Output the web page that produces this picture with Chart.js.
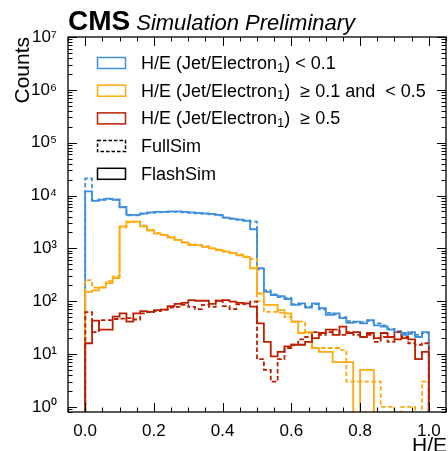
<!DOCTYPE html>
<html>
<head>
<meta charset="utf-8">
<script src="https://cdn.jsdelivr.net/npm/chart.js@4.4.1/dist/chart.umd.min.js"></script>
<style>
  html, body { margin: 0; padding: 0; background: #fff; }
  #wrap { width: 448px; height: 451px; position: relative; }
</style>
</head>
<body>
<div id="wrap"><canvas id="c" width="448" height="451"></canvas></div>
<script>
// Histogram bin edges for H/E (50 bins of 0.02)
const binEdges = [0.00,0.02,0.04,0.06,0.08,0.10,0.12,0.14,0.16,0.18,
                  0.20,0.22,0.24,0.26,0.28,0.30,0.32,0.34,0.36,0.38,
                  0.40,0.42,0.44,0.46,0.48,0.50,0.52,0.54,0.56,0.58,
                  0.60,0.62,0.64,0.66,0.68,0.70,0.72,0.74,0.76,0.78,
                  0.80,0.82,0.84,0.86,0.88,0.90,0.92,0.94,0.96,0.98,1.00];

// H/E (Jet/Electron1) < 0.1
const blueFlash = [12000,7900,8300,8700,8300,6000,4300,4300,4600,4800,
                   4900,4900,5000,5000,4900,4800,4700,4600,4500,4300,
                   3800,3600,3500,3300,2300,420,150,130,125,110,
                   85,91,76,91,74,55,59,48,39,41,
                   38,44,35,33,29,26,23,26,21,26];
const blueFull  = [21000,8100,8500,8600,8400,6100,4200,4200,4500,4700,
                   4800,4900,4900,4900,4800,4700,4600,4500,4400,4200,
                   3800,3700,3500,3400,3200,400,160,135,120,115,
                   88,86,80,88,70,60,56,50,42,40,
                   40,42,38,35,30,27,25,24,23,25];

// 0.1 <= H/E (Jet/Electron1) < 0.5
const orangeFlash = [150,160,180,220,275,2600,3200,3200,2600,2200,
                     1900,1800,1600,1450,1300,1150,1150,1070,1000,930,
                     870,810,740,680,420,140,85,85,68,59,
                     41,25,26,13,11,11,7,7,7,0,
                     5,5,0,0,0,0,0,0,0,0];
const orangeFull  = [250,180,185,240,295,2500,3100,3200,2700,2200,
                     1950,1800,1650,1450,1300,1200,1150,1100,1000,950,
                     880,820,760,700,630,100,63,63,60,50,
                     41,41,25,13,13,13,13,12,3,3,
                     3,3,3,1,1,0,1,1,0,3];

// H/E (Jet/Electron1) >= 0.5
const redFlash = [16,43,29,29,51,59,41,59,65,63,
                  68,69,81,89,93,105,102,102,89,102,
                  105,98,93,91,79,38,17,9,11,14,
                  15,15,17,20,25,29,23,33,25,26,
                  21,25,20,25,21,19,20,19,8,11];
const redFull  = [62,26,44,44,46,47,48,45,59,62,
                  65,69,76,78,85,78,71,85,78,102,
                  81,71,87,89,98,8,5,3,8,13,
                  15,19,21,26,23,26,29,23,26,23,
                  21,23,17,21,17,26,21,16,15,16];

// Axis ticks
const xTickValues = [0.0, 0.2, 0.4, 0.6, 0.8, 1.0];
const yTickValues = [1, 10, 100, 1000, 10000, 100000, 1000000, 10000000];

const colBlue = '#3f90da', colOrange = '#ffa90e', colRed = '#bd1f01';
const FONT = "'Liberation Sans', Arial, Helvetica, sans-serif";
const LOG_FLOOR = 1e-3; // empty bins fall below the axis and are clipped

// Step outline: rise at the left edge of each bin, run across it, drop at the end
function stepData(counts) {
  const pts = [{ x: binEdges[0], y: LOG_FLOOR }];
  counts.forEach((c, i) => pts.push({ x: binEdges[i + 1], y: c > 0 ? c : LOG_FLOOR }));
  pts.push({ x: binEdges[binEdges.length - 1], y: LOG_FLOOR });
  return pts;
}

function histSet(label, counts, color, dashed) {
  return {
    label, data: stepData(counts),
    borderColor: color, borderWidth: 1.8,
    borderDash: dashed ? [4.5, 2.5] : [],
    stepped: 'after', pointRadius: 0, fill: false, tension: 0
  };
}

const supDigits = { '0': '\u2070', '1': '\u00b9', '2': '\u00b2', '3': '\u00b3', '4': '\u2074',
                    '5': '\u2075', '6': '\u2076', '7': '\u2077', '8': '\u2078', '9': '\u2079' };

// Draws a line of text made of normal / subscript pieces
function drawRich(ctx, x, y, parts, size) {
  let cx = x;
  parts.forEach(p => {
    if (p.sub) {
      ctx.font = `${Math.round(size * 0.7)}px ${FONT}`;
      ctx.fillText(p.t, cx, y + size * 0.22);
    } else {
      ctx.font = `${size}px ${FONT}`;
      ctx.fillText(p.t, cx, y);
    }
    cx += ctx.measureText(p.t).width;
  });
}

const legendItems = [
  { color: colBlue, dash: [], parts: [{ t: 'H/E (Jet/Electron' }, { t: '1', sub: true }, { t: ') < 0.1' }] },
  { color: colOrange, dash: [], parts: [{ t: 'H/E (Jet/Electron' }, { t: '1', sub: true }, { t: ')  \u2265 0.1 and  < 0.5' }] },
  { color: colRed, dash: [], parts: [{ t: 'H/E (Jet/Electron' }, { t: '1', sub: true }, { t: ')  \u2265 0.5' }] },
  { color: '#000', dash: [3.5, 2], parts: [{ t: 'FullSim' }] },
  { color: '#000', dash: [], parts: [{ t: 'FlashSim' }] }
];

const decorations = {
  id: 'decorations',
  afterDatasetsDraw(chart) {
    const ctx = chart.ctx, a = chart.chartArea;
    const xs = chart.scales.x, ys = chart.scales.y;
    ctx.save();
    ctx.strokeStyle = '#000';
    ctx.lineWidth = 1;
    const MAJ = 9, MIN = 4.5;
    const line = (x1, y1, x2, y2) => { ctx.beginPath(); ctx.moveTo(x1, y1); ctx.lineTo(x2, y2); ctx.stroke(); };
    // x ticks (inward, bottom and top)
    xTickValues.forEach(v => {
      const px = Math.round(xs.getPixelForValue(v)) + 0.5;
      line(px, a.bottom, px, a.bottom - MAJ); line(px, a.top, px, a.top + MAJ);
    });
    for (let k = -1; k <= 21; k++) {
      const v = k * 0.05;
      if (k % 4 === 0 || v < xs.min || v > xs.max) continue;
      const px = Math.round(xs.getPixelForValue(v)) + 0.5;
      line(px, a.bottom, px, a.bottom - MIN); line(px, a.top, px, a.top + MIN);
    }
    // y ticks (inward, left and right)
    yTickValues.forEach(v => {
      const py = Math.round(ys.getPixelForValue(v)) + 0.5;
      line(a.left, py, a.left + MAJ, py); line(a.right, py, a.right - MAJ, py);
    });
    for (let d = -1; d < 7; d++) {
      for (let m = 2; m <= 9; m++) {
        const v = m * Math.pow(10, d);
        if (v < ys.min || v > ys.max) continue;
        const py = Math.round(ys.getPixelForValue(v)) + 0.5;
        line(a.left, py, a.left + MIN, py); line(a.right, py, a.right - MIN, py);
      }
    }
    // frame
    ctx.lineWidth = 1.3;
    ctx.strokeRect(a.left, a.top, a.right - a.left, a.bottom - a.top);

    // header
    ctx.fillStyle = '#000';
    ctx.textBaseline = 'alphabetic';
    ctx.textAlign = 'left';
    ctx.font = `bold 28px ${FONT}`;
    ctx.fillText('CMS', a.left, 30);
    const cmsW = ctx.measureText('CMS').width;
    ctx.font = `italic 22px ${FONT}`;
    ctx.fillText('Simulation Preliminary', a.left + cmsW + 6, 30);

    // axis titles
    ctx.font = `21px ${FONT}`;
    ctx.textAlign = 'right';
    ctx.fillText('H/E', 447, 452);
    ctx.save();
    ctx.translate(29, a.top);
    ctx.rotate(-Math.PI / 2);
    ctx.textAlign = 'right';
    ctx.fillText('Counts', 0, 0);
    ctx.restore();

    // legend
    ctx.textAlign = 'left';
    ctx.textBaseline = 'middle';
    legendItems.forEach((it, i) => {
      const cy = 63 + i * 27.7;
      ctx.strokeStyle = it.color;
      ctx.lineWidth = 1.5;
      ctx.setLineDash(it.dash);
      ctx.strokeRect(97.5, cy - 5.5, 28, 11);
      ctx.setLineDash([]);
      ctx.fillStyle = '#000';
      drawRich(ctx, 141, cy + 1, it.parts, 18);
    });
    ctx.restore();
  }
};

new Chart(document.getElementById('c'), {
  type: 'line',
  data: {
    datasets: [
      histSet('FlashSim, H/E >= 0.5', redFlash, colRed, false),
      histSet('FullSim, H/E >= 0.5', redFull, colRed, true),
      histSet('FlashSim, 0.1 <= H/E < 0.5', orangeFlash, colOrange, false),
      histSet('FullSim, 0.1 <= H/E < 0.5', orangeFull, colOrange, true),
      histSet('FlashSim, H/E < 0.1', blueFlash, colBlue, false),
      histSet('FullSim, H/E < 0.1', blueFull, colBlue, true)
    ]
  },
  options: {
    responsive: false,
    animation: false,
    layout: { padding: { top: 37, right: 2, left: 0, bottom: 0 } },
    plugins: { legend: { display: false }, tooltip: { enabled: false } },
    scales: {
      x: {
        type: 'linear', min: -0.05, max: 1.05,
        grid: { display: false }, border: { display: false },
        afterBuildTicks: s => { s.ticks = xTickValues.map(v => ({ value: v })); },
        ticks: { callback: v => v.toFixed(1), font: { family: FONT, size: 17 }, color: '#000',
                 padding: 1, maxRotation: 0, autoSkip: false },
        afterFit: s => { s.height = 39; }
      },
      y: {
        type: 'logarithmic', min: 0.8, max: 1e7,
        grid: { display: false }, border: { display: false },
        afterBuildTicks: s => { s.ticks = yTickValues.map(v => ({ value: v })); },
        ticks: {
          callback: v => '10' + String(Math.round(Math.log10(v))).split('').map(c => supDigits[c]).join(''),
          font: { family: FONT, size: 17 }, color: '#000', padding: 3, autoSkip: false
        },
        afterFit: s => { s.width = 68; }
      }
    }
  },
  plugins: [decorations]
});
</script>
</body>
</html>
